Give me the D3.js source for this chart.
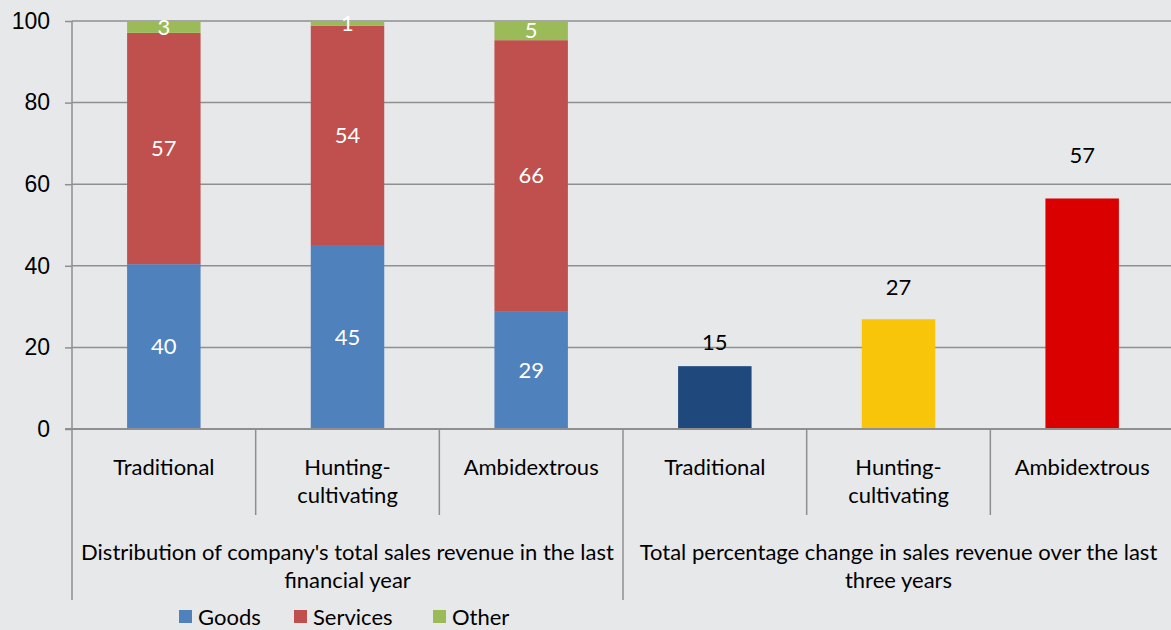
<!DOCTYPE html>
<html>
<head>
<meta charset="utf-8">
<script src="https://cdn.jsdelivr.net/npm/d3@7"></script>
<style>
    html, body { margin: 0; padding: 0; background: #e7e8ea; }
    svg { display: block; font-family: Lato, "Open Sans", sans-serif; }
</style>
</head>
<body>
<div id="chart"></div>
<script>
// stacked part: distribution of sales revenue
const types = ["Traditional", "Hunting-cultivating", "Ambidextrous"];
const goods = [40.4, 45.1, 28.9];
const services = [56.7, 53.7, 66.4];
const other = [2.9, 1.2, 4.7];

// simple part: total percentage change
const change = [15.4, 26.9, 56.5];

const typeLabels = ["Traditional", "Hunting-\ncultivating", "Ambidextrous"];
const groupLabels = [
    "Distribution of company's total sales revenue in the last\nfinancial year",
    "Total percentage change in sales revenue over the last\nthree years"
];
const seriesNames = ["Goods", "Services", "Other"];
const yTicks = [0, 20, 40, 60, 80, 100];

const width = 1171,
    height = 630,
    margin = { top: 21, right: -3, bottom: 201, left: 72 };

const stackColors = { Goods: "#4f81bd", Services: "#c0504d", Other: "#9bbb59" };
const changeColors = ["#1f497d", "#f8c50a", "#db0000"];
const labelLift = [24, 32, 43]; // manual label placement above the plain bars
const gridColor = "#8f8f8f";
const fontSize = "22px";

const svg = d3.select("#chart").append("svg")
    .attr("width", width)
    .attr("height", height);

const slots = ["dist", "change"].flatMap(g => types.map(t => g + "|" + t));

const x = d3.scaleBand()
    .domain(slots)
    .range([margin.left, width - margin.right])
    .paddingInner(0.6)
    .paddingOuter(0.3);

const y = d3.scaleLinear()
    .domain([0, 100])
    .range([height - margin.bottom, margin.top]);

const step = x.step();
const slotLeft = d => x(d) - step * 0.3;

// gridlines + y axis
const yAxis = d3.axisLeft(y)
    .tickValues(yTicks)
    .tickSize(7)
    .tickPadding(15);

const gY = svg.append("g")
    .attr("transform", "translate(" + margin.left + ",0)")
    .call(yAxis);
gY.select(".domain").remove();
gY.selectAll(".tick line").attr("stroke", gridColor).attr("stroke-width", 1.5);
gY.selectAll(".tick text")
    .style("font-size", "23px")
    .attr("fill", "#000");

svg.append("g")
    .selectAll("line")
    .data(yTicks.filter(d => d > 0))
    .join("line")
    .attr("x1", margin.left)
    .attr("x2", width)
    .attr("y1", d => y(d))
    .attr("y2", d => y(d))
    .attr("stroke", gridColor)
    .attr("stroke-width", 1.5);

// stacked bars
const table = types.map((t, i) => ({ key: "dist|" + t, Goods: goods[i], Services: services[i], Other: other[i] }));
const stacked = d3.stack().keys(seriesNames)(table);

const layers = svg.append("g")
    .selectAll("g")
    .data(stacked)
    .join("g")
    .attr("fill", d => stackColors[d.key]);

layers.selectAll("rect")
    .data(d => d)
    .join("rect")
    .attr("x", d => x(d.data.key))
    .attr("width", x.bandwidth())
    .attr("y", d => y(d[1]))
    .attr("height", d => y(d[0]) - y(d[1]));

layers.selectAll("text")
    .data(d => d)
    .join("text")
    .attr("x", d => x(d.data.key) + x.bandwidth() / 2)
    .attr("y", d => (y(d[0]) + y(d[1])) / 2)
    .attr("dy", "0.35em")
    .attr("text-anchor", "middle")
    .attr("fill", "#fff")
    .style("font-size", fontSize)
    .text(d => Math.round(d[1] - d[0]));

// plain bars
const changeData = types.map((t, i) => ({ key: "change|" + t, value: change[i], i: i }));

svg.append("g")
    .selectAll("rect")
    .data(changeData)
    .join("rect")
    .attr("x", d => x(d.key))
    .attr("width", x.bandwidth())
    .attr("y", d => y(d.value))
    .attr("height", d => y(0) - y(d.value))
    .attr("fill", d => changeColors[d.i]);

svg.append("g")
    .selectAll("text")
    .data(changeData)
    .join("text")
    .attr("x", d => x(d.key) + x.bandwidth() / 2)
    .attr("y", d => y(d.value) - labelLift[d.i])
    .attr("dy", "0.35em")
    .attr("text-anchor", "middle")
    .attr("fill", "#000")
    .style("font-size", fontSize)
    .text(d => Math.round(d.value));

// x axis: baseline, separators, labels
const y0 = y(0);
svg.append("line")
    .attr("x1", margin.left - 7)
    .attr("x2", width)
    .attr("y1", y0)
    .attr("y2", y0)
    .attr("stroke", gridColor)
    .attr("stroke-width", 2);

svg.append("line")
    .attr("x1", margin.left)
    .attr("x2", margin.left)
    .attr("y1", y(100))
    .attr("y2", y0)
    .attr("stroke", gridColor)
    .attr("stroke-width", 1.5);

const sep = svg.append("g").attr("stroke", gridColor).attr("stroke-width", 1.5);
slots.forEach((s, i) => {
    const xx = slotLeft(s);
    const isGroup = i % 3 === 0;
    sep.append("line")
        .attr("x1", xx).attr("x2", xx)
        .attr("y1", y0)
        .attr("y2", isGroup ? 600 : 515);
});

const multiline = (sel, text, lineHeight) => {
    text.split("\n").forEach((line, k) => {
        sel.append("tspan")
            .attr("x", sel.attr("x"))
            .attr("dy", k === 0 ? 0 : lineHeight)
            .text(line);
    });
};

slots.forEach((s, i) => {
    const t = svg.append("text")
        .attr("x", x(s) + x.bandwidth() / 2)
        .attr("y", 475)
        .attr("text-anchor", "middle")
        .attr("fill", "#000")
        .style("font-size", fontSize);
    multiline(t, typeLabels[i % 3], 28);
});

groupLabels.forEach((g, i) => {
    const first = slots[i * 3];
    const cx = slotLeft(first) + step * 1.5;
    const t = svg.append("text")
        .attr("x", cx)
        .attr("y", 560)
        .attr("text-anchor", "middle")
        .attr("fill", "#000")
        .style("font-size", fontSize);
    multiline(t, g, 28);
});

// legend
const legendX = [179, 294, 433];
const legend = svg.append("g")
    .selectAll("g")
    .data(seriesNames)
    .join("g")
    .attr("transform", (d, i) => "translate(" + legendX[i] + ",610)");

legend.append("rect")
    .attr("width", 13)
    .attr("height", 13)
    .attr("fill", d => stackColors[d]);

legend.append("text")
    .attr("x", 19)
    .attr("y", 7)
    .attr("dy", "0.35em")
    .attr("fill", "#000")
    .style("font-size", fontSize)
    .text(d => d);
</script>
</body>
</html>
